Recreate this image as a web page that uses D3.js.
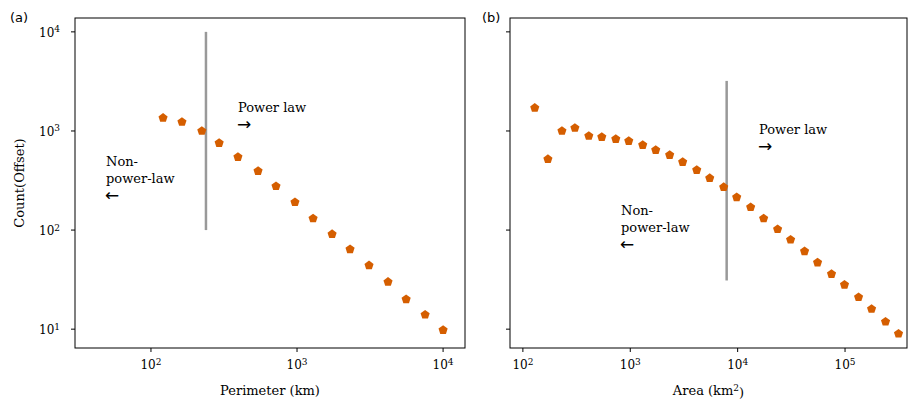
<!DOCTYPE html>
<html><head><meta charset="utf-8">
<script src="https://cdn.jsdelivr.net/npm/d3@7"></script>
<style>body{margin:0;background:#fff}</style>
</head><body><div id="plot"></div>
<script>
var perimX = [121,163,223,293,394,541,718,968,1288,1738,2307,3111,4198,5585,7534,10000];
var perimY = [1355,1233,1000,755,546,394,277,191,131,91,64,44,30,20,14,9.8];
var areaX = [129,171,231,305,411,543,733,968,1306,1726,2328,3076,4159,5495,7413,9795,13213,17458,23550,31117,41976,55463,74817,98855,133660,176600,238300,314800];
var areaY = [1710,520,1000,1072,890,869,830,792,722,642,571,486,403,334,271,214,170,131,102,80,61,47,36,28,21,16,11.9,9];
var perimCut = 238, perimCutY = [100, 10000];
var areaCut = 7900, areaCutY = [31, 3200];

var W = 909, H = 401, plotTop = 18, plotBottom = 348;
var svg = d3.select("#plot").append("svg").attr("width", W).attr("height", H)
    .style("font-family", "'DejaVu Serif', serif");

var y = d3.scaleLog().domain([10**0.81, 10**4.14]).range([plotBottom, plotTop]);

function sup(sel, e) {
    sel.append("tspan").text("10");
    sel.append("tspan").attr("dy", "-0.5em").attr("font-size", "9px").text(e);
}

function panel(x0, x1, xdom, xs, ys, cut, cutY, xticks, xlabel, showY, tag, tagX) {
    var x = d3.scaleLog().domain(xdom).range([x0, x1]);
    var g = svg.append("g");
    xticks.forEach(function(t) {
        var px = x(Math.pow(10, t));
        g.append("line").attr("x1", px).attr("x2", px).attr("y1", plotBottom).attr("y2", plotBottom + 4).attr("stroke", "#000");
        var tx = g.append("text").attr("x", px).attr("y", plotBottom + 21).attr("text-anchor", "middle").attr("font-size", "12px");
        sup(tx, t);
    });
    [1, 2, 3, 4].forEach(function(t) {
        var py = y(Math.pow(10, t));
        g.append("line").attr("x1", x0 - 4).attr("x2", x0).attr("y1", py).attr("y2", py).attr("stroke", "#000");
        if (showY) {
            var ty = g.append("text").attr("x", x0 - 36).attr("y", py + 5).attr("font-size", "12px");
            sup(ty, t);
        }
    });
    g.append("rect").attr("x", x0).attr("y", plotTop).attr("width", x1 - x0).attr("height", plotBottom - plotTop)
        .attr("fill", "none").attr("stroke", "#000").attr("stroke-width", 1);
    g.append("line").attr("x1", x(cut)).attr("x2", x(cut)).attr("y1", y(cutY[0])).attr("y2", y(cutY[1]))
        .attr("stroke", "#999").attr("stroke-width", 2.5);
    var pent = d3.range(5).map(function(i) {
        var a = -Math.PI / 2 + i * 2 * Math.PI / 5;
        return [4.8 * Math.cos(a), 4.8 * Math.sin(a)];
    });
    g.selectAll("path.pt").data(xs).enter().append("path")
        .attr("d", "M" + pent.join("L") + "Z")
        .attr("transform", function(d, i) { return "translate(" + x(d) + "," + y(ys[i]) + ")"; })
        .attr("fill", "#d55e00");
    var xl = g.append("text").attr("x", (x0 + x1) / 2).attr("y", 395).attr("text-anchor", "middle").attr("font-size", "13px");
    if (xlabel == "Area") {
        xl.append("tspan").text("Area (km");
        xl.append("tspan").attr("dy", "-0.5em").attr("font-size", "9px").text("2");
        xl.append("tspan").attr("dy", "0.5em").text(")");
    } else xl.text(xlabel);
    svg.append("text").attr("x", tagX).attr("y", 22).attr("font-family", "'DejaVu Sans', sans-serif")
        .attr("font-size", "13px").text(tag);
    return x;
}

panel(75, 465, [10**1.48, 10**4.15], perimX, perimY, perimCut, perimCutY, [2, 3, 4], "Perimeter (km)", true, "(a)", 10);
panel(510, 907, [10**1.88, 10**5.577], areaX, areaY, areaCut, areaCutY, [2, 3, 4, 5], "Area", false, "(b)", 482);

svg.append("text").attr("transform", "translate(24,183) rotate(-90)").attr("text-anchor", "middle")
    .attr("font-size", "13px").text("Count(Offset)");

function note(x, y0, lines, arrow) {
    lines.forEach(function(l, i) {
        svg.append("text").attr("x", x).attr("y", y0 + i * 17).attr("font-size", "13px").text(l);
    });
    svg.append("text").attr("x", x - 1).attr("y", y0 + lines.length * 17 + 1).attr("font-size", "17px")
        .attr("font-family", "'DejaVu Sans', sans-serif").text(arrow);
}
note(238, 112, ["Power law"], "→");
note(106, 166, ["Non-", "power-law"], "←");
note(759, 134, ["Power law"], "→");
note(621, 215, ["Non-", "power-law"], "←");
</script></body></html>
